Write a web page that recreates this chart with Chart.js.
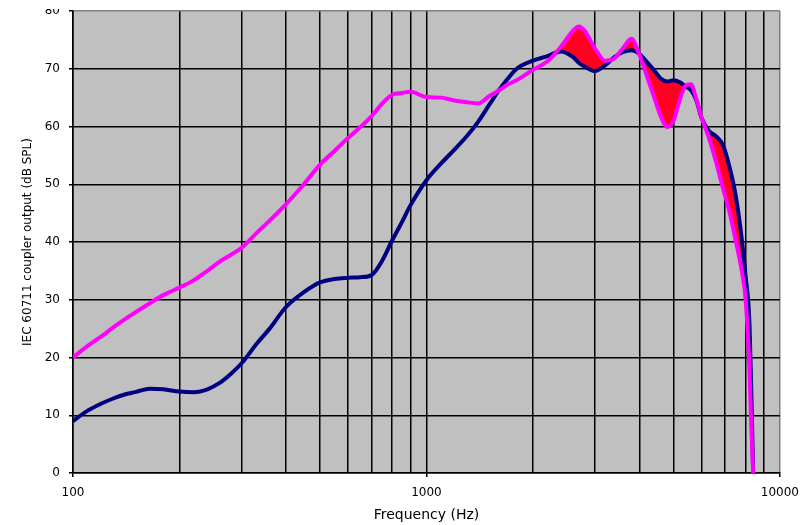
<!DOCTYPE html>
<html lang="en">
<head>
<meta charset="UTF-8">
<title>IEC 60711 coupler output</title>
<script src="https://cdn.jsdelivr.net/npm/chart.js"></script>
<style>
html, body {
margin: 0;
padding: 0;
background: #fff;
overflow: hidden;
}
.wrap {
position: relative;
width: 808px;
height: 535px;
margin-top: -10px;
}
/* the source picture is cropped just above the plot, cutting the top label */
.crop {
position: absolute;
left: 0;
top: 0;
width: 808px;
height: 19px;
background: #fff;
}
</style>
</head>
<body>
<div class="wrap">
<canvas id="chart" width="808" height="535"></canvas>
<div class="crop"></div>
</div>
<script>
// frequencies (Hz) shared by both curves
const freqs = [100, 110, 120, 130, 140, 150, 165, 180, 200, 220, 240, 260, 280, 300, 330, 360, 400, 450, 500, 550, 600, 650, 700, 750, 800, 850, 900, 1000, 1100, 1200, 1300, 1400, 1500, 1600, 1700, 1800, 2000, 2200, 2400, 2600, 2700, 2800, 3000, 3200, 3400, 3600, 3800, 4000, 4200, 4400, 4600, 4800, 5000, 5200, 5400, 5600, 5800, 6000, 6300, 6600, 6900, 7200, 7500, 7800, 8000, 8200, 8300, 8400];
const navyDb = [9.0, 10.8, 12.0, 12.9, 13.6, 14.0, 14.6, 14.5, 14.1, 14.0, 14.5, 15.6, 17.2, 19.0, 22.3, 25.0, 28.7, 31.3, 33.0, 33.6, 33.8, 33.9, 34.3, 36.8, 40.3, 43.3, 46.3, 50.7, 53.6, 56.0, 58.3, 60.8, 63.6, 66.2, 68.3, 70.0, 71.4, 72.2, 73.0, 72.0, 71.0, 70.4, 69.6, 70.6, 72.0, 72.9, 73.2, 72.6, 71.2, 69.8, 68.3, 67.8, 68.0, 67.7, 67.0, 66.3, 64.6, 61.5, 59.2, 58.3, 56.8, 53.0, 48.0, 40.5, 34.0, 26.0, 14.0, 0];
const magentaDb = [20.0, 22.0, 23.6, 25.2, 26.6, 27.8, 29.4, 30.8, 32.1, 33.4, 35.0, 36.6, 37.8, 39.0, 41.5, 43.7, 46.5, 50.0, 53.4, 55.8, 58.0, 59.9, 61.8, 64.0, 65.5, 65.8, 66.0, 65.1, 65.0, 64.5, 64.2, 64.0, 65.2, 66.2, 67.3, 68.0, 69.8, 71.3, 73.8, 76.6, 77.3, 76.6, 73.5, 71.4, 71.8, 73.6, 75.2, 72.5, 68.8, 65.2, 61.8, 59.9, 61.0, 64.5, 67.0, 67.3, 64.8, 61.6, 58.0, 53.8, 49.3, 45.2, 40.2, 35.0, 30.0, 18.0, 8.0, 0];
const fillFrom = 2200; // red shading between curves starts here
const xTicks = [100, 200, 300, 400, 500, 600, 700, 800, 900, 1000, 2000, 3000, 4000, 5000, 6000, 7000, 8000, 9000, 10000];
const xLabels = [100, 1000, 10000];
const yTicks = [0, 10, 20, 30, 40, 50, 60, 70, 80];

const font = 'DejaVu Sans';

const plotBg = {
id: 'plotBg',
beforeDraw(chart) {
const { ctx, chartArea: a } = chart;
ctx.save();
ctx.fillStyle = '#c0c0c0';
ctx.fillRect(a.left, a.top, a.right - a.left, a.bottom - a.top);
ctx.restore();
}
};

const pts = arr => freqs.map((f, i) => ({ x: f, y: arr[i] }));

new Chart(document.getElementById('chart'), {
type: 'line',
data: {
datasets: [
{
data: pts(magentaDb),
borderColor: '#ff00ff',
borderWidth: 4,
pointRadius: 0,
fill: false,
cubicInterpolationMode: 'monotone',
order: 0
},
{
data: pts(navyDb),
borderColor: '#000080',
borderWidth: 4,
pointRadius: 0,
fill: false,
cubicInterpolationMode: 'monotone',
order: 1
},
{
data: freqs.map((f, i) => ({ x: f, y: f >= fillFrom ? navyDb[i] : null })),
borderColor: 'rgba(0,0,0,0)',
borderWidth: 0,
backgroundColor: '#ff0020',
pointRadius: 0,
fill: 0,
cubicInterpolationMode: 'monotone',
order: 2
}
]
},
plugins: [plotBg],
options: {
responsive: false,
animation: false,
layout: { padding: { top: 21, right: 27, left: 0, bottom: 0 } },
plugins: {
legend: { display: false },
tooltip: { enabled: false }
},
scales: {
x: {
type: 'logarithmic',
min: 100,
max: 10000,
afterBuildTicks: s => { s.ticks = xTicks.map(v => ({ value: v })); },
afterFit: s => { s.height = 52; },
ticks: {
autoSkip: false,
maxRotation: 0,
padding: 9,
color: '#000',
font: { family: font, size: 12 },
callback: v => xLabels.includes(v) ? String(v) : ''
},
grid: {
color: c => c.tick && c.tick.value === 10000 ? '#808080' : '#000',
lineWidth: 1.5,
tickLength: 4,
tickColor: c => c.tick && xLabels.includes(c.tick.value) ? '#000' : 'rgba(0,0,0,0)'
},
border: { color: '#000', width: 1.5 },
title: {
display: true,
text: 'Frequency (Hz)',
color: '#000',
font: { family: font, size: 14 },
padding: { top: 0, bottom: 1 }
}
},
y: {
min: 0,
max: 80,
afterBuildTicks: s => { s.ticks = yTicks.map(v => ({ value: v })); },
afterFit: s => { s.width = 73; },
ticks: {
padding: 9,
color: '#000',
font: { family: font, size: 12 }
},
grid: {
color: c => c.tick && c.tick.value === 80 ? '#808080' : '#000',
lineWidth: 1.5,
tickLength: 4,
tickColor: '#000'
},
border: { color: '#000', width: 1.5 },
title: {
display: true,
text: 'IEC 60711 coupler output (dB SPL)',
color: '#000',
font: { family: font, size: 12 },
padding: { top: 21, bottom: 0 }
}
}
}
}
});
</script>
</body>
</html>
